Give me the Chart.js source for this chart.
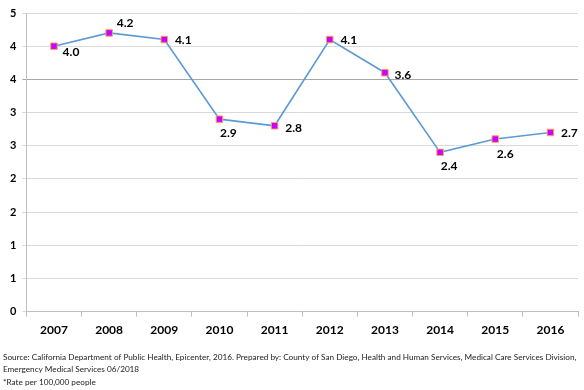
<!DOCTYPE html>
<html>
<head>
<meta charset="utf-8">
<script src="https://cdn.jsdelivr.net/npm/chart.js@4"></script>
<style>
  html, body { margin: 0; padding: 0; background: #fff; }
  #wrap { width: 584px; height: 390px; position: relative; }
</style>
</head>
<body>
<div id="wrap"><canvas id="myChart" width="584" height="390"></canvas></div>
<script>
// chart values
const years = ['2007', '2008', '2009', '2010', '2011', '2012', '2013', '2014', '2015', '2016'];
const rates = [4.0, 4.2, 4.1, 2.9, 2.8, 4.1, 3.6, 2.4, 2.6, 2.7];
const rateLabels = ['4.0', '4.2', '4.1', '2.9', '2.8', '4.1', '3.6', '2.4', '2.6', '2.7'];
const sourceLines = [
  'Source: California Department of Public Health, Epicenter, 2016. Prepared by: County of San Diego, Health and Human Services, Medical Care Services Division,',
  'Emergency Medical Services 06/2018',
  '*Rate per 100,000 people'
];

// where each value label sits relative to its point (dx, dy)
const labelOffsets = [[17, 6], [16, -10], [19, 1], [9, 14], [19, 2], [19, 1], [18, 2], [9, 14], [10, 15], [19, 1]];

const font = 'Lato, "Open Sans", sans-serif';

const valueLabels = {
  id: 'valueLabels',
  afterDatasetsDraw(chart) {
    const ctx = chart.ctx;
    const meta = chart.getDatasetMeta(0);
    ctx.save();
    ctx.font = 'bold 12px ' + font;
    ctx.fillStyle = '#000';
    ctx.textAlign = 'center';
    ctx.textBaseline = 'middle';
    meta.data.forEach(function(pt, i) {
      ctx.fillText(rateLabels[i], pt.x + labelOffsets[i][0], pt.y + labelOffsets[i][1]);
    });
    ctx.restore();
  }
};

// footnote, sized so the first line spans the width like the original
const footnote = {
  id: 'footnote',
  afterDraw(chart) {
    const ctx = chart.ctx;
    ctx.save();
    ctx.font = '10px ' + font;
    const w = ctx.measureText(sourceLines[0]).width;
    const size = Math.min(10, 10 * 574 / w);
    ctx.font = size.toFixed(2) + 'px ' + font;
    ctx.fillStyle = '#222';
    ctx.textAlign = 'left';
    ctx.textBaseline = 'middle';
    sourceLines.forEach(function(line, i) {
      ctx.fillText(line, 3, 357 + i * 12.5);
    });
    ctx.restore();
  }
};

const data = {
  labels: years,
  datasets: [{
    data: rates,
    borderColor: '#5B9BD5',
    borderWidth: 1.6,
    tension: 0,
    pointStyle: 'rect',
    pointRadius: 4.6,
    pointBorderWidth: 1,
    pointBackgroundColor: '#CC00FF',
    pointBorderColor: '#F4A460'
  }]
};

const config = {
  type: 'line',
  data: data,
  options: {
    responsive: false,
    animation: false,
    layout: { padding: { left: 4, right: 6, top: 13, bottom: 47 } },
    plugins: { legend: { display: false }, tooltip: { enabled: false } },
    scales: {
      x: {
        offset: true,
        grid: { offset: true, drawOnChartArea: false, tickLength: 5, color: '#bfbfbf' },
        border: { color: '#bfbfbf' },
        ticks: { color: '#000', padding: 6, font: { family: font, size: 12, weight: 'bold' } }
      },
      y: {
        min: 0,
        max: 4.5,
        grid: {
          tickLength: 4,
          color: function(c) { return c.tick && c.tick.value === 3.5 ? '#a6a6a6' : '#d9d9d9'; }
        },
        border: { color: '#bfbfbf' },
        ticks: {
          stepSize: 0.5,
          color: '#000',
          padding: 6,
          font: { family: font, size: 11, weight: 'bold' },
          callback: function(v) { return Math.round(v); }
        }
      }
    }
  },
  plugins: [valueLabels, footnote]
};

const myChart = new Chart(document.getElementById('myChart').getContext('2d'), config);
</script>
</body>
</html>
